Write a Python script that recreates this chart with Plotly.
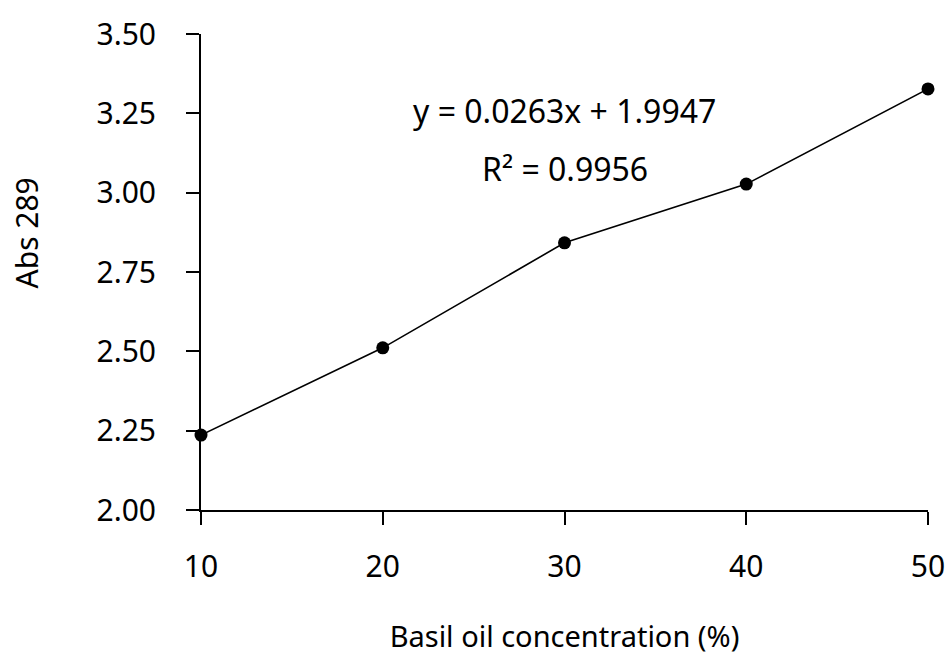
import plotly.graph_objects as go

concentration = [10, 20, 30, 40, 50]
absorbance = [2.236, 2.511, 2.842, 3.027, 3.327]
y_ticks = [2.00, 2.25, 2.50, 2.75, 3.00, 3.25, 3.50]
y_tick_text = ["2.00", "2.25", "2.50", "2.75", "3.00", "3.25", "3.50"]
x_ticks = [10, 20, 30, 40, 50]
equation_text = "y = 0.0263x + 1.9947"
r2_text = "R² = 0.9956"
x_title = "Basil oil concentration (%)"
y_title = "Abs 289"

FONT = "Noto Sans"

fig = go.Figure()
fig.add_trace(go.Scatter(
    x=concentration, y=absorbance, mode="lines+markers",
    line=dict(color="black", width=1.6),
    marker=dict(color="black", size=13),
    cliponaxis=False, showlegend=False,
))

fig.add_annotation(x=30, y=3.26, text=equation_text, showarrow=False,
                   font=dict(family=FONT, size=32, color="black"), xanchor="center")
fig.add_annotation(x=30, y=3.075, text=r2_text, showarrow=False,
                   font=dict(family=FONT, size=32, color="black"), xanchor="center")
# y-axis title (placed off-centre as in the reference)
fig.add_annotation(xref="paper", yref="paper", x=-0.2400, y=0.582, text=y_title,
                   textangle=-90, showarrow=False, xanchor="center", yanchor="middle",
                   font=dict(family=FONT, size=30, color="black"))

fig.update_layout(
    width=949, height=655,
    margin=dict(l=201, r=21, t=34, b=145, autoexpand=False),
    plot_bgcolor="white", paper_bgcolor="white",
    font=dict(family=FONT, size=30, color="black"),
)
fig.update_xaxes(
    range=[10, 50], tickvals=x_ticks, showgrid=False, zeroline=False,
    showline=True, linecolor="black", linewidth=2, automargin=False,
    ticks="outside", ticklen=13, tickwidth=2, tickcolor="black",
    tickfont=dict(family=FONT, size=30),
    ticklabelstandoff=16,
    title=dict(text=x_title, standoff=44,
               font=dict(family=FONT, size=29)),
)
fig.update_yaxes(
    range=[2, 3.5], tickvals=y_ticks, ticktext=y_tick_text, showgrid=False, zeroline=False,
    showline=True, linecolor="black", linewidth=2, automargin=False,
    ticks="outside", ticklen=13, tickwidth=2, tickcolor="black",
    tickfont=dict(family=FONT, size=30),
    ticklabelstandoff=24,
)

fig.write_html("out.html")
